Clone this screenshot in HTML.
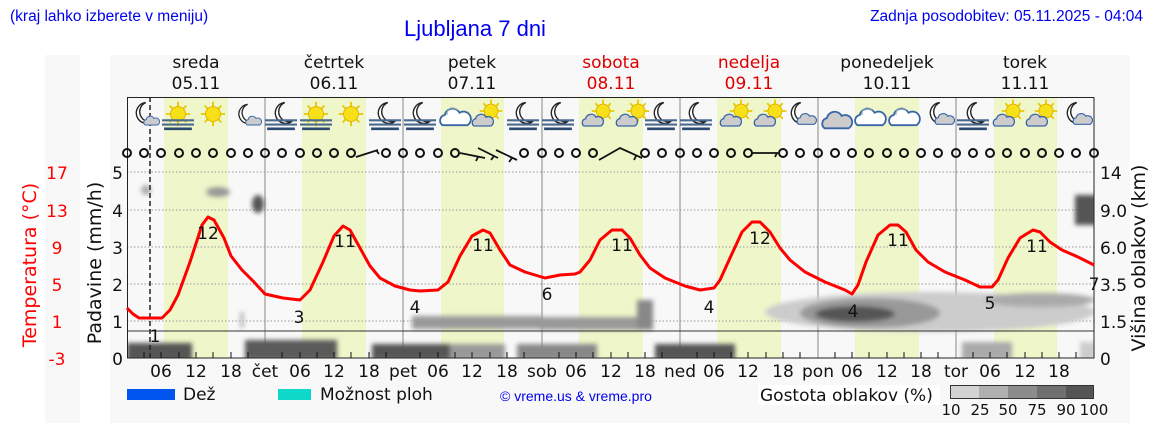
<!DOCTYPE html>
<html><head><meta charset="utf-8"><style>
body{margin:0;background:#fff;width:1152px;height:443px;overflow:hidden}
svg{display:block}
.d{font-family:"DejaVu Sans",sans-serif}
</style></head><body>
<svg width="1152" height="443" xmlns="http://www.w3.org/2000/svg" class="d">
<defs>
<filter id="b" filterUnits="userSpaceOnUse" x="0" y="0" width="1152" height="443"><feGaussianBlur stdDeviation="2.5"/></filter>
<clipPath id="pc"><rect x="127" y="160" width="967" height="198"/></clipPath>
<symbol id="sun" viewBox="0 0 30 30"><g stroke="#e8c800" stroke-width="2"><line x1="15" y1="2" x2="15" y2="28"/><line x1="2" y1="15" x2="28" y2="15"/><line x1="6" y1="6" x2="24" y2="24"/><line x1="24" y1="6" x2="6" y2="24"/></g><circle cx="15" cy="15" r="8" fill="#f7e017" stroke="#e0b000"/></symbol>
<symbol id="moon" viewBox="0 0 30 30"><path d="M17 3 A12 12 0 1 0 26 24 A10 10 0 0 1 17 3Z" fill="#fff" stroke="#222" stroke-width="1.6"/></symbol>
<symbol id="cloud" viewBox="0 0 30 30"><path d="M5 25 a5 5 0 0 1 2-9 a7 7 0 0 1 13-2 a6 6 0 0 1 6 11 Z" fill="#ccc" stroke="#3a66a8" stroke-width="1.6"/></symbol>
<symbol id="wcloud" viewBox="0 0 30 30"><path d="M4 24 a5 5 0 0 1 2-9 a7 7 0 0 1 13-2 a6 6 0 0 1 7 11 Z" fill="#fff" stroke="#3a66a8" stroke-width="1.6"/><path d="M8 15 a5 5 0 0 1 9-4" fill="none" stroke="#8aa"/></symbol>
<symbol id="fog" viewBox="0 0 30 30"><g stroke="#4a6a90" stroke-width="2"><line x1="0" y1="19" x2="30" y2="19"/><line x1="0" y1="23" x2="30" y2="23"/><line x1="2" y1="27" x2="28" y2="27" stroke="#2a4a70" stroke-width="2.5"/></g></symbol>
</defs>
<rect x="45" y="55" width="1085" height="368" fill="#f8f8f8"/>
<rect x="80" y="55" width="30" height="368" fill="#fff"/>
<text x="10" y="21" font-family="Liberation Sans" font-size="15.5" fill="#0000ee">(kraj lahko izberete v meniju)</text>
<text x="475" y="36" font-family="Liberation Sans" font-size="22" fill="#0000ee" text-anchor="middle">Ljubljana 7 dni</text>
<text x="1143" y="21" font-family="Liberation Sans" font-size="15.5" fill="#0000ee" text-anchor="end">Zadnja posodobitev: 05.11.2025 - 04:04</text>
<g font-size="17" text-anchor="middle" fill="#111">
<text x="196" y="68">sreda</text><text x="196" y="89">05.11</text>
<text x="334" y="68">četrtek</text><text x="334" y="89">06.11</text>
<text x="472" y="68">petek</text><text x="472" y="89">07.11</text>
<text x="611" y="68" fill="#d00">sobota</text><text x="611" y="89" fill="#d00">08.11</text>
<text x="749" y="68" fill="#d00">nedelja</text><text x="749" y="89" fill="#d00">09.11</text>
<text x="887" y="68">ponedeljek</text><text x="887" y="89">10.11</text>
<text x="1025" y="68">torek</text><text x="1025" y="89">11.11</text>
</g>
<!-- plot -->
<rect x="127" y="97" width="967" height="261" fill="#f8f8f8"/>
<g fill="#eff6c9">
<rect x="164" y="97" width="64" height="261"/><rect x="302" y="97" width="64" height="261"/><rect x="441" y="97" width="63" height="261"/><rect x="579" y="97" width="64" height="261"/><rect x="717" y="97" width="64" height="261"/><rect x="855" y="97" width="64" height="261"/><rect x="994" y="97" width="63" height="261"/>
</g>
<g stroke="#888" stroke-width="1"><line x1="265" y1="97" x2="265" y2="358"/><line x1="403" y1="97" x2="403" y2="358"/><line x1="542" y1="97" x2="542" y2="358"/><line x1="680" y1="97" x2="680" y2="358"/><line x1="818" y1="97" x2="818" y2="358"/><line x1="956" y1="97" x2="956" y2="358"/></g>
<g stroke="#999" stroke-dasharray="1.5,2"><line x1="127" y1="172" x2="1094" y2="172"/><line x1="127" y1="210" x2="1094" y2="210"/><line x1="127" y1="247" x2="1094" y2="247"/><line x1="127" y1="284" x2="1094" y2="284"/><line x1="127" y1="321" x2="1094" y2="321"/></g>
<!-- clouds -->
<g clip-path="url(#pc)"><g filter="url(#b)">
<ellipse cx="146" cy="190" rx="5" ry="5" fill="#aaa"/>
<ellipse cx="218" cy="192" rx="12" ry="5" fill="#999"/>
<ellipse cx="258" cy="204" rx="6" ry="9" fill="#555"/>
<rect x="1075" y="195" width="22" height="30" fill="#555"/>
<rect x="240" y="312" width="4" height="16" fill="#bbb"/>
<rect x="412" y="316" width="130" height="13" fill="#999"/>
<rect x="540" y="317" width="110" height="13" fill="#9a9a9a"/>
<rect x="637" y="300" width="16" height="30" fill="#888"/>
<ellipse cx="930" cy="312" rx="165" ry="20" fill="#ccc"/>
<ellipse cx="870" cy="313" rx="70" ry="15" fill="#999"/>
<ellipse cx="855" cy="314" rx="40" ry="8" fill="#555"/>
<ellipse cx="1040" cy="300" rx="55" ry="7" fill="#aaa"/>
<rect x="127" y="343" width="65" height="18" fill="#555"/>
<rect x="245" y="340" width="92" height="20" fill="#5a5a5a"/>
<rect x="372" y="344" width="80" height="16" fill="#555"/>
<rect x="450" y="344" width="55" height="16" fill="#999"/>
<rect x="517" y="344" width="80" height="16" fill="#888"/>
<rect x="655" y="344" width="80" height="16" fill="#555"/>
<rect x="962" y="342" width="50" height="18" fill="#aaa"/>
<rect x="1080" y="342" width="16" height="18" fill="#ccc"/>
</g></g>
<line x1="127" y1="331" x2="1094" y2="331" stroke="#333"/>
<rect x="127.5" y="97.5" width="966.5" height="260.5" fill="none" stroke="#222"/>
<line x1="150" y1="97" x2="150" y2="358" stroke="#222" stroke-width="1.5" stroke-dasharray="5,3"/>
<!-- icons -->
<g>
<use href="#moon" x="131" y="100" width="26" height="26"/><use href="#cloud" x="142" y="110" width="18" height="18"/>
<use href="#sun" x="164" y="100" width="28" height="28"/><use href="#fog" x="162" y="100" width="32" height="32"/>
<use href="#sun" x="199" y="100" width="28" height="28"/>
<use href="#moon" x="234" y="102" width="24" height="24"/><use href="#cloud" x="244" y="110" width="18" height="18"/>
<use href="#moon" x="270" y="100" width="26" height="26"/><use href="#fog" x="265" y="100" width="32" height="32"/>
<use href="#sun" x="302" y="100" width="28" height="28"/><use href="#fog" x="300" y="100" width="32" height="32"/>
<use href="#sun" x="337" y="100" width="28" height="28"/>
<use href="#moon" x="373" y="100" width="26" height="26"/><use href="#fog" x="369" y="100" width="32" height="32"/>
<use href="#moon" x="408" y="100" width="26" height="26"/><use href="#fog" x="404" y="100" width="32" height="32"/>
<use href="#wcloud" x="438" y="98" width="34" height="34"/>
<use href="#sun" x="478" y="98" width="26" height="26"/><use href="#cloud" x="470" y="106" width="24" height="24"/>
<use href="#moon" x="511" y="100" width="26" height="26"/><use href="#fog" x="507" y="100" width="32" height="32"/>
<use href="#moon" x="546" y="100" width="26" height="26"/><use href="#fog" x="542" y="100" width="32" height="32"/>
<use href="#sun" x="590" y="98" width="26" height="26"/><use href="#cloud" x="580" y="106" width="24" height="24"/>
<use href="#sun" x="625" y="98" width="26" height="26"/><use href="#cloud" x="614" y="106" width="24" height="24"/>
<use href="#moon" x="649" y="100" width="26" height="26"/><use href="#fog" x="645" y="100" width="32" height="32"/>
<use href="#moon" x="684" y="100" width="26" height="26"/><use href="#fog" x="680" y="100" width="32" height="32"/>
<use href="#sun" x="728" y="98" width="26" height="26"/><use href="#cloud" x="718" y="106" width="24" height="24"/>
<use href="#sun" x="762" y="98" width="26" height="26"/><use href="#cloud" x="752" y="106" width="24" height="24"/>
<use href="#moon" x="786" y="100" width="26" height="26"/><use href="#cloud" x="795" y="106" width="22" height="22"/>
<use href="#cloud" x="819" y="100" width="34" height="34"/>
<use href="#wcloud" x="853" y="98" width="34" height="34"/>
<use href="#wcloud" x="887" y="98" width="34" height="34"/>
<use href="#moon" x="925" y="100" width="26" height="26"/><use href="#cloud" x="933" y="106" width="22" height="22"/>
<use href="#moon" x="962" y="100" width="26" height="26"/><use href="#fog" x="957" y="100" width="32" height="32"/>
<use href="#sun" x="1000" y="98" width="26" height="26"/><use href="#cloud" x="991" y="106" width="24" height="24"/>
<use href="#sun" x="1033" y="98" width="26" height="26"/><use href="#cloud" x="1024" y="106" width="24" height="24"/>
<use href="#moon" x="1062" y="100" width="26" height="26"/><use href="#cloud" x="1071" y="106" width="22" height="22"/>
</g>
<!-- wind -->
<g fill="none" stroke="#111" stroke-width="2">
<circle cx="127" cy="153" r="4"/><circle cx="144" cy="153" r="4"/><circle cx="161" cy="153" r="4"/><circle cx="179" cy="153" r="4"/><circle cx="196" cy="153" r="4"/><circle cx="213" cy="153" r="4"/><circle cx="231" cy="153" r="4"/><circle cx="248" cy="153" r="4"/><circle cx="265" cy="153" r="4"/><circle cx="282" cy="153" r="4"/><circle cx="300" cy="153" r="4"/><circle cx="317" cy="153" r="4"/><circle cx="334" cy="153" r="4"/><circle cx="351" cy="153" r="4"/>
<circle cx="386" cy="153" r="4"/><circle cx="403" cy="153" r="4"/><circle cx="420" cy="153" r="4"/><circle cx="438" cy="153" r="4"/><circle cx="455" cy="153" r="4"/>
<circle cx="524" cy="153" r="4"/><circle cx="542" cy="153" r="4"/><circle cx="559" cy="153" r="4"/><circle cx="576" cy="153" r="4"/><circle cx="593" cy="153" r="4"/>
<circle cx="645" cy="153" r="4"/><circle cx="662" cy="153" r="4"/><circle cx="680" cy="153" r="4"/><circle cx="697" cy="153" r="4"/><circle cx="714" cy="153" r="4"/><circle cx="731" cy="153" r="4"/><circle cx="748" cy="153" r="4"/>
<circle cx="783" cy="153" r="4"/><circle cx="800" cy="153" r="4"/><circle cx="818" cy="153" r="4"/><circle cx="835" cy="153" r="4"/><circle cx="852" cy="153" r="4"/><circle cx="869" cy="153" r="4"/><circle cx="887" cy="153" r="4"/><circle cx="904" cy="153" r="4"/><circle cx="921" cy="153" r="4"/><circle cx="938" cy="153" r="4"/><circle cx="956" cy="153" r="4"/><circle cx="973" cy="153" r="4"/><circle cx="990" cy="153" r="4"/><circle cx="1007" cy="153" r="4"/><circle cx="1025" cy="153" r="4"/><circle cx="1042" cy="153" r="4"/><circle cx="1059" cy="153" r="4"/><circle cx="1076" cy="153" r="4"/><circle cx="1094" cy="153" r="4"/>
</g>
<g stroke="#111" stroke-width="1.8" fill="none">
<path d="M356 157 L378 150 M376 150 l3 4"/>
<path d="M460 153 L485 158 M478 157 l-2 4 M478 148 L498 158 M494 156 l-3 4 M496 150 L517 160 M512 158 l-3 4"/>
<path d="M599 160 L620 148 L642 158 M636 156 l-2 4"/>
<path d="M752 153 L778 153 M777 153 l-2 4"/>
</g>
<!-- temperature -->
<polyline fill="none" stroke="#f00" stroke-width="3" stroke-linejoin="round" points="127,308 133,314 139,318 162,318 170,310 178,295 190,262 202,225 208,217 214,220 224,238 231,256 242,270 254,282 265,294 283,298 300,300 310,290 323,262 334,236 343,226 350,230 360,248 370,266 380,278 395,286 410,290 420,291 438,290 448,282 460,256 472,236 483,230 490,233 500,250 510,265 525,272 545,278 560,275 575,274 580,272 590,260 600,240 612,230 622,230 630,238 640,255 650,268 665,278 685,286 700,290 714,288 720,280 730,258 742,232 752,222 760,222 770,232 780,248 790,260 805,272 825,282 845,290 852,294 858,285 866,262 878,235 890,225 898,225 906,232 916,250 928,262 945,272 965,280 980,287 992,287 998,280 1008,258 1020,238 1033,230 1040,232 1050,242 1062,250 1078,257 1094,265"/>
<g font-size="17" fill="#111" text-anchor="middle">
<text x="208" y="239">12</text><text x="345" y="247">11</text><text x="483" y="251">11</text><text x="622" y="251">11</text><text x="760" y="244">12</text><text x="898" y="246">11</text><text x="1037" y="252">11</text>
<text x="155" y="342">1</text><text x="299" y="323">3</text><text x="415" y="313">4</text><text x="547" y="300">6</text><text x="709" y="313">4</text><text x="853" y="317">4</text><text x="990" y="309">5</text><text x="1094" y="290">7</text>
</g>
<!-- x axis -->
<g stroke="#111"><path d="M144 358v-6M161 358v-6M179 358v-6M196 358v-6M213 358v-6M231 358v-6M248 358v-6M282 358v-6M300 358v-6M317 358v-6M334 358v-6M351 358v-6M369 358v-6M386 358v-6M420 358v-6M438 358v-6M455 358v-6M472 358v-6M490 358v-6M507 358v-6M524 358v-6M559 358v-6M576 358v-6M593 358v-6M611 358v-6M628 358v-6M645 358v-6M662 358v-6M697 358v-6M714 358v-6M731 358v-6M748 358v-6M766 358v-6M783 358v-6M800 358v-6M835 358v-6M852 358v-6M869 358v-6M887 358v-6M904 358v-6M921 358v-6M938 358v-6M973 358v-6M990 358v-6M1007 358v-6M1025 358v-6M1042 358v-6M1059 358v-6M1076 358v-6"/></g>
<g font-size="17" fill="#111" text-anchor="middle">
<text x="161" y="377">06</text><text x="196" y="377">12</text><text x="231" y="377">18</text><text x="265" y="377">čet</text>
<text x="300" y="377">06</text><text x="334" y="377">12</text><text x="369" y="377">18</text><text x="403" y="377">pet</text>
<text x="438" y="377">06</text><text x="472" y="377">12</text><text x="507" y="377">18</text><text x="542" y="377">sob</text>
<text x="576" y="377">06</text><text x="611" y="377">12</text><text x="645" y="377">18</text><text x="680" y="377">ned</text>
<text x="714" y="377">06</text><text x="748" y="377">12</text><text x="783" y="377">18</text><text x="818" y="377">pon</text>
<text x="852" y="377">06</text><text x="887" y="377">12</text><text x="921" y="377">18</text><text x="956" y="377">tor</text>
<text x="990" y="377">06</text><text x="1025" y="377">12</text><text x="1059" y="377">18</text>
</g>
<!-- y axes -->
<g font-size="17" fill="#f00" text-anchor="middle">
<text x="57" y="179">17</text><text x="57" y="217">13</text><text x="57" y="254">9</text><text x="57" y="291">5</text><text x="57" y="328">1</text><text x="57" y="365">-3</text>
</g>
<g font-size="17" fill="#111" text-anchor="end">
<text x="123" y="179">5</text><text x="123" y="217">4</text><text x="123" y="254">3</text><text x="123" y="291">2</text><text x="123" y="328">1</text><text x="123" y="365">0</text>
</g>
<g font-size="17" fill="#111">
<text x="1100" y="179">14</text><text x="1100" y="217">9.0</text><text x="1100" y="254">6.0</text><text x="1100" y="291">3.5</text><text x="1100" y="328">1.5</text><text x="1100" y="365">0</text>
</g>
<text transform="translate(36,265) rotate(-90)" font-size="19" fill="#f00" text-anchor="middle">Temperatura (°C)</text>
<text transform="translate(101,263) rotate(-90)" font-size="19" fill="#111" text-anchor="middle">Padavine (mm/h)</text>
<text transform="translate(1145,258) rotate(-90)" font-size="19" fill="#111" text-anchor="middle">Višina oblakov (km)</text>
<!-- legend -->
<rect x="127" y="389" width="48" height="11" fill="#0055ee"/>
<text x="183" y="400" font-size="17" fill="#111">Dež</text>
<rect x="278" y="389" width="33" height="11" fill="#10d8c8"/>
<text x="320" y="400" font-size="17" fill="#111">Možnost ploh</text>
<text x="500" y="401" font-family="Liberation Sans" font-size="14" fill="#0000ee">© vreme.us &amp; vreme.pro</text>
<rect x="758" y="385" width="182" height="20" fill="#fff"/>
<text x="760" y="401" font-size="17" fill="#111">Gostota oblakov (%)</text>
<rect x="950" y="385" width="29" height="14" fill="#d3d3d3"/><rect x="979" y="385" width="29" height="14" fill="#b0b0b0"/><rect x="1008" y="385" width="29" height="14" fill="#8c8c8c"/><rect x="1037" y="385" width="29" height="14" fill="#707070"/><rect x="1066" y="385" width="28" height="14" fill="#555"/>
<rect x="950.5" y="385.5" width="143" height="13" fill="none" stroke="#333"/>
<g font-size="15" fill="#111" text-anchor="middle"><text x="951" y="415">10</text><text x="980" y="415">25</text><text x="1008" y="415">50</text><text x="1037" y="415">75</text><text x="1066" y="415">90</text><text x="1094" y="415">100</text></g>
</svg>
</body></html>
